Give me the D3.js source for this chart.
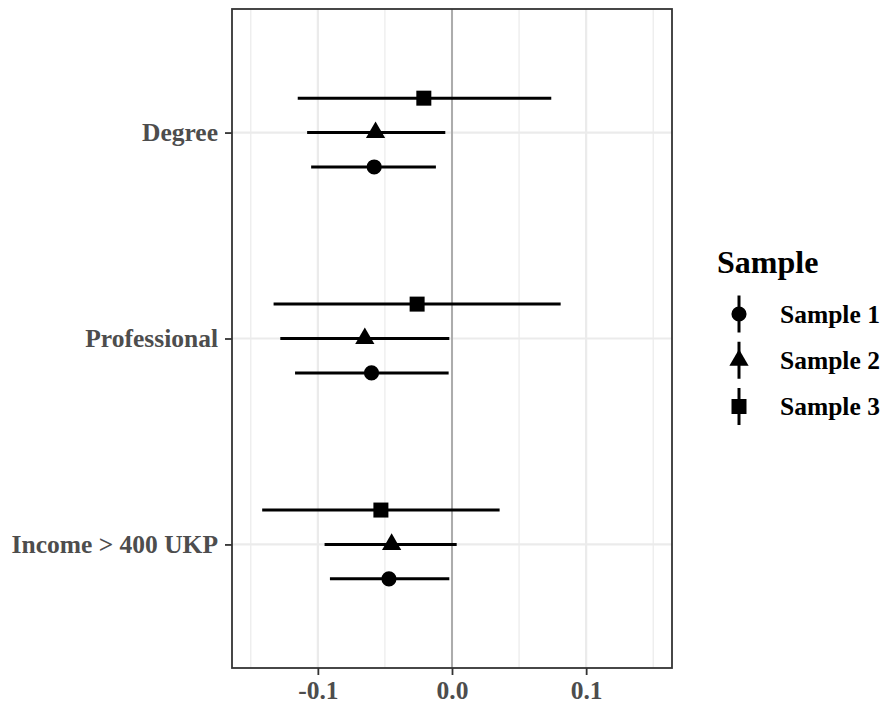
<!DOCTYPE html>
<html>
<head>
<meta charset="utf-8">
<script src="https://cdn.jsdelivr.net/npm/d3@7"></script>
<style>
  body { margin: 0; background: #fff; }
  svg { display: block; }
</style>
</head>
<body>
<div id="chart"></div>
<script>
const categories = ["Degree", "Professional", "Income > 400 UKP"]
const samples = ["Sample 1", "Sample 2", "Sample 3"]
const xTicks = [-0.1, 0.0, 0.1]

// per sample: estimate, lower and upper bound, in category order
const sample1Est = [-0.058, -0.060, -0.047]
const sample1Low = [-0.105, -0.117, -0.091]
const sample1High = [-0.012, -0.0025, -0.002]

const sample2Est = [-0.057, -0.065, -0.045]
const sample2Low = [-0.108, -0.128, -0.095]
const sample2High = [-0.005, -0.002, 0.0035]

const sample3Est = [-0.021, -0.026, -0.053]
const sample3Low = [-0.115, -0.133, -0.1415]
const sample3High = [0.074, 0.081, 0.0355]

const seriesEst = [sample1Est, sample2Est, sample3Est]
const seriesLow = [sample1Low, sample2Low, sample3Low]
const seriesHigh = [sample1High, sample2High, sample3High]

const rows = []
samples.forEach((s, i) => {
  categories.forEach((c, j) => {
    rows.push({sample: s, category: c, est: seriesEst[i][j], low: seriesLow[i][j], high: seriesHigh[i][j]})
  })
})

const width = 884, height = 711
const panel = {left: 232, right: 672, top: 9, bottom: 668}
const font = "'Liberation Serif', 'Times New Roman', serif"

const x = d3.scaleLinear().domain([-0.164, 0.164]).range([panel.left, panel.right])
const y = d3.scalePoint().domain(categories).range([panel.top, panel.bottom]).padding(0.6)
const dodge = d3.scalePoint().domain(samples).range([1, -1])
const dodgeWidth = y.step() * 0.167

const shapes = d3.scaleOrdinal()
  .domain(samples)
  .range([d3.symbol(d3.symbolCircle, 180), d3.symbol(d3.symbolTriangle, 160), d3.symbol(d3.symbolSquare, 225)])

const svg = d3.select("#chart").append("svg")
  .attr("width", width)
  .attr("height", height)

svg.append("rect").attr("width", width).attr("height", height).attr("fill", "#fff")

// grid
const minorX = [-0.15, -0.05, 0.05, 0.15]
svg.append("g").selectAll("line")
  .data(minorX)
  .join("line")
    .attr("x1", d => x(d)).attr("x2", d => x(d))
    .attr("y1", panel.top).attr("y2", panel.bottom)
    .attr("stroke", "#ebebeb").attr("stroke-width", 1.2)

svg.append("g").selectAll("line")
  .data(xTicks)
  .join("line")
    .attr("x1", d => x(d)).attr("x2", d => x(d))
    .attr("y1", panel.top).attr("y2", panel.bottom)
    .attr("stroke", "#ebebeb").attr("stroke-width", 2.2)

svg.append("g").selectAll("line")
  .data(categories)
  .join("line")
    .attr("x1", panel.left).attr("x2", panel.right)
    .attr("y1", d => y(d)).attr("y2", d => y(d))
    .attr("stroke", "#ebebeb").attr("stroke-width", 2.2)

// zero reference
svg.append("line")
  .attr("x1", x(0)).attr("x2", x(0))
  .attr("y1", panel.top).attr("y2", panel.bottom)
  .attr("stroke", "#acacac").attr("stroke-width", 2)

// point ranges
const marks = svg.append("g")
marks.selectAll("line")
  .data(rows)
  .join("line")
    .attr("x1", d => x(d.low)).attr("x2", d => x(d.high))
    .attr("y1", d => y(d.category) + dodge(d.sample) * dodgeWidth)
    .attr("y2", d => y(d.category) + dodge(d.sample) * dodgeWidth)
    .attr("stroke", "#000").attr("stroke-width", 3)

marks.selectAll("path")
  .data(rows)
  .join("path")
    .attr("d", d => shapes(d.sample)())
    .attr("transform", d => `translate(${x(d.est)},${y(d.category) + dodge(d.sample) * dodgeWidth})`)
    .attr("fill", "#000")

// panel border
svg.append("rect")
  .attr("x", panel.left).attr("y", panel.top)
  .attr("width", panel.right - panel.left).attr("height", panel.bottom - panel.top)
  .attr("fill", "none").attr("stroke", "#333").attr("stroke-width", 1.8)

// axes
const xAxis = svg.append("g")
  .attr("transform", `translate(0,${panel.bottom})`)
  .call(d3.axisBottom(x).tickValues(xTicks).tickFormat(d => d.toFixed(1)).tickSize(7).tickPadding(6))
xAxis.select(".domain").remove()
xAxis.selectAll("line").attr("stroke", "#333").attr("stroke-width", 1.8)
xAxis.selectAll("text")
  .attr("fill", "#4d4d4d")
  .style("font-family", font).style("font-size", "25.5px").style("font-weight", "bold")

const yAxis = svg.append("g")
  .attr("transform", `translate(${panel.left},0)`)
  .call(d3.axisLeft(y).tickSize(7).tickPadding(7))
yAxis.select(".domain").remove()
yAxis.selectAll("line").attr("stroke", "#333").attr("stroke-width", 1.8)
yAxis.selectAll("text")
  .attr("fill", "#4d4d4d")
  .style("font-family", font).style("font-size", "25.5px").style("font-weight", "bold")

// legend
const legend = svg.append("g")
legend.append("text")
  .attr("x", 717).attr("y", 273)
  .style("font-family", font).style("font-size", "32px").style("font-weight", "bold")
  .text("Sample")

const keyY = d3.scalePoint().domain(samples).range([314, 406.5])
const keys = legend.selectAll("g.key")
  .data(samples)
  .join("g")
    .attr("class", "key")
    .attr("transform", d => `translate(739,${keyY(d)})`)
keys.append("line")
  .attr("y1", -18.5).attr("y2", 18.5)
  .attr("stroke", "#000").attr("stroke-width", 3)
keys.append("path")
  .attr("d", d => shapes(d)())
  .attr("fill", "#000")
keys.append("text")
  .attr("x", 41).attr("dy", "0.34em")
  .style("font-family", font).style("font-size", "25.5px").style("font-weight", "bold")
  .text(d => d)
</script>
</body>
</html>
